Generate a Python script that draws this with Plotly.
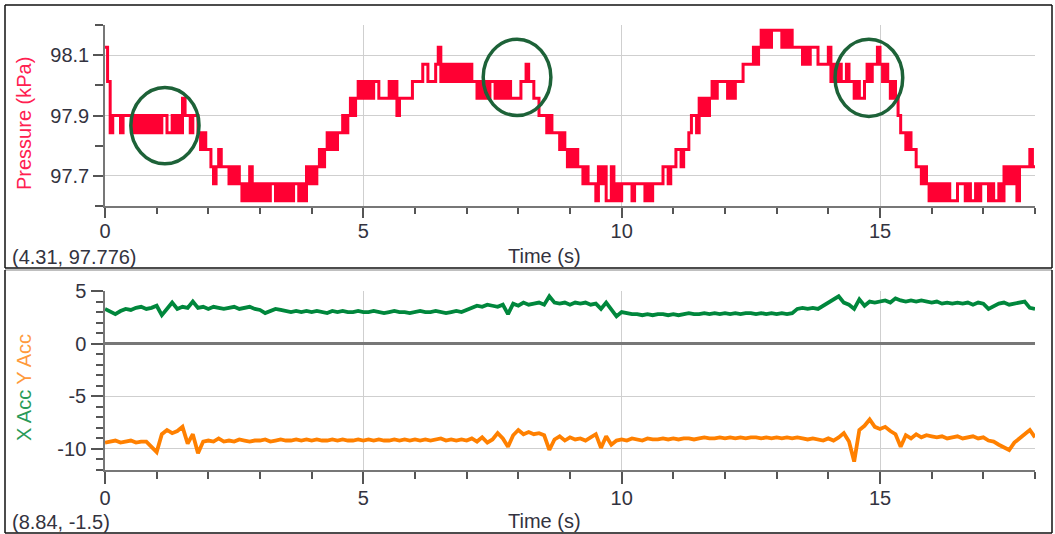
import plotly.graph_objects as go

W, H = 1055, 534

# ---------------- data ----------------
# Pressure sensor quantization levels (kPa)
pressure_levels = [97.617, 97.674, 97.730, 97.787, 97.843, 97.900,
                   97.957, 98.013, 98.070, 98.126, 98.183]
# one level index (hex digit) per 0.05 s sample, one string per second
pressure_codes = (
    "97455545555454545454"  # 0 s
    "54554454546554554343"  # 1 s
    "32123222121210102010"  # 2 s
    "10101101010101101021"  # 3 s
    "21232343434454565676"  # 4 s
    "76767766667675666667"  # 5 s
    "77788777897878787878"  # 6 s
    "78776767677676767666"  # 7 s
    "67787766555454443432"  # 8 s
    "32322121110212002010"  # 9 s
    "11110111101011112212"  # 10 s
    "23323345546565676777"  # 11 s
    "76767778888989A9A9AA"  # 12 s
    "AA9A9A99998989998888"  # 13 s
    "97878778776766787889"  # 14 s
    "87876765443433221210"  # 15 s
    "10101010001110100101"  # 16 s
    "11010010212120222232"  # 17 s
    "2"                     # 18 s
)
pressure_dt = 0.05

# X / Y acceleration, one value per 0.1 s
x_acc = [
    3.3, 3.0, 2.8, 3.1, 3.3, 3.2, 3.4, 3.5, 3.3, 3.4,
    3.6, 2.7, 3.3, 3.9, 3.3, 3.5, 3.4, 4.0, 3.4, 3.5,
    3.3, 3.5, 3.4, 3.3, 3.4, 3.5, 3.3, 3.4, 3.5, 3.3,
    3.2, 2.9, 3.1, 3.3, 3.2, 3.1, 3.0, 3.1, 3.0, 3.1,
    3.0, 3.1, 3.0, 2.9, 3.1, 3.0, 3.1, 3.0, 3.0, 3.1,
    3.0, 3.0, 3.1, 3.0, 2.9, 3.0, 3.1, 3.0, 3.0, 2.9,
    3.0, 3.1, 3.0, 3.0, 3.1, 3.0, 2.9, 3.0, 3.1, 3.0,
    3.2, 3.4, 3.6, 3.5, 3.7, 3.6, 3.5, 3.7, 2.8, 3.8,
    3.6, 3.9, 3.7, 3.8, 3.9, 3.7, 4.5, 3.9, 3.8, 3.9,
    3.7, 3.9, 3.8, 3.9, 3.7, 3.8, 3.3, 3.9, 3.2, 2.6,
    3.0, 2.9, 2.8, 2.8, 2.7, 2.8, 2.7, 2.8, 2.8, 2.7,
    2.8, 2.7, 2.8, 2.9, 2.8, 2.8, 2.9, 2.8, 2.9, 2.8,
    2.9, 2.8, 2.9, 2.8, 2.9, 2.9, 2.8, 2.9, 2.8, 2.9,
    2.8, 2.9, 2.8, 2.9, 3.3, 3.4, 3.3, 3.4, 3.3, 3.6,
    4.0, 4.2, 4.5, 3.9, 3.7, 3.3, 4.2, 3.6, 4.0, 3.9,
    4.0, 4.1, 3.9, 4.3, 4.1, 4.0, 4.1, 4.0, 4.1, 4.0,
    3.9, 4.0, 3.8, 3.9, 3.8, 3.9, 3.8, 3.9, 3.7, 3.9,
    3.8, 3.3, 3.6, 3.8, 3.9, 3.7, 3.8, 3.9, 4.0, 3.4,
    3.3,
]
y_acc = [
    -9.4, -9.3, -9.2, -9.4, -9.3, -9.2, -9.4, -9.3, -9.3, -9.8,
    -10.3, -8.6, -8.2, -8.5, -8.3, -7.9, -9.5, -8.6, -10.4, -9.3,
    -9.2, -9.3, -9.0, -9.3, -9.2, -9.3, -9.1, -9.2, -9.3, -9.2,
    -9.2, -9.1, -9.3, -9.2, -9.1, -9.2, -9.2, -9.1, -9.2, -9.1,
    -9.2, -9.1, -9.2, -9.2, -9.1, -9.2, -9.1, -9.2, -9.2, -9.1,
    -9.2, -9.1, -9.2, -9.1, -9.2, -9.2, -9.1, -9.2, -9.1, -9.2,
    -9.1, -9.2, -9.1, -9.2, -9.1, -9.0, -9.2, -9.1, -9.2, -9.1,
    -9.2, -9.0, -9.3, -8.9, -9.4, -9.1, -8.5, -9.0, -9.8, -8.7,
    -8.2, -8.6, -8.4, -8.6, -8.5, -8.7, -10.1, -9.1, -8.8, -9.2,
    -8.9, -9.1, -9.0, -9.2, -8.9, -8.6, -9.9, -8.8, -9.6, -9.2,
    -9.1, -9.2, -9.0, -9.1, -9.2, -9.0, -9.1, -9.1, -9.0, -9.1,
    -9.0, -9.1, -9.0, -9.0, -9.1, -9.0, -8.9, -9.0, -9.0, -8.9,
    -9.0, -8.9, -9.0, -8.9, -9.0, -8.9, -8.9, -9.0, -8.9, -9.0,
    -8.9, -9.0, -8.9, -9.0, -8.9, -9.0, -9.1, -9.0, -9.1, -9.2,
    -9.0, -9.2, -8.9, -8.5, -9.3, -11.2, -8.2, -7.8, -7.2, -7.9,
    -8.1, -7.9, -8.3, -8.6, -9.8, -8.7, -9.0, -8.6, -8.9, -8.7,
    -8.8, -8.9, -8.8, -9.0, -8.9, -8.8, -9.0, -8.9, -8.8, -9.0,
    -8.9, -9.2, -9.3, -9.6, -9.9, -10.1, -9.4, -9.0, -8.7, -8.2,
    -8.9,
]
acc_dt = 0.1

# tick labels
x_ticks = [0, 5, 10, 15]
x_ticktext = ["0", "5", "10", "15"]
p_ticks = [97.7, 97.9, 98.1]
p_ticktext = ["97.7", "97.9", "98.1"]
a_ticks = [-10, -5, 0, 5]
a_ticktext = ["-10", "-5", "0", "5"]

# highlighted regions (time range s, pressure range kPa)
circles = [
    (0.50, 1.82, 97.74, 97.993),
    (7.32, 8.63, 97.90, 98.153),
    (14.13, 15.44, 97.897, 98.153),
]

cursor_top = "(4.31, 97.776)"
cursor_bottom = "(8.84, -1.5)"

# ---------------- derived series ----------------
pressure_kpa = [pressure_levels[int(c, 16)] for c in pressure_codes]
pressure_t = [round(i * pressure_dt, 3) for i in range(len(pressure_kpa))]
acc_t = [round(i * acc_dt, 3) for i in range(len(x_acc))]

RED = "#ff0033"
GREEN = "#00873c"
ORANGE = "#ff8000"
FONT = "Liberation Sans, Arial, sans-serif"
TXT = "#333340"

fig = go.Figure()
fig.add_trace(go.Scatter(x=pressure_t, y=pressure_kpa, mode="lines",
                         line=dict(color=RED, width=3, shape="hv"),
                         xaxis="x", yaxis="y", showlegend=False,
                         hoverinfo="skip"))
fig.add_trace(go.Scatter(x=acc_t, y=x_acc, mode="lines",
                         line=dict(color=GREEN, width=3.8),
                         xaxis="x2", yaxis="y2", showlegend=False,
                         hoverinfo="skip"))
fig.add_trace(go.Scatter(x=acc_t, y=y_acc, mode="lines",
                         line=dict(color=ORANGE, width=3.8),
                         xaxis="x2", yaxis="y2", showlegend=False,
                         hoverinfo="skip"))


def px(x):
    return x / W


def py(y):
    return 1 - y / H


def xaxis_common(ticklen, minorlen, anchor, standoff):
    return dict(
        domain=[px(105), px(1035)], anchor=anchor, range=[0, 18],
        automargin=False,
        tickmode="array", tickvals=x_ticks, ticktext=x_ticktext,
        ticks="outside", ticklen=ticklen, tickwidth=1.5, tickcolor="#555",
        showline=True, linecolor="#777", linewidth=1.5,
        showgrid=True, gridcolor="#cfcfcf", gridwidth=1, zeroline=False,
        minor=dict(tickmode="linear", tick0=0, dtick=1, ticks="outside",
                   ticklen=minorlen, tickwidth=1.5, tickcolor="#555",
                   showgrid=False),
        tickfont=dict(family=FONT, size=20, color=TXT),
        ticklabelstandoff=standoff, fixedrange=True,
    )


fig.update_layout(
    template="none",
    width=W, height=H,
    margin=dict(l=0, r=0, t=0, b=0, pad=0),
    paper_bgcolor="white", plot_bgcolor="white",
    font=dict(family=FONT, size=19, color=TXT),
    showlegend=False,
    xaxis=xaxis_common(10, 6, "y", -4),
    xaxis2=xaxis_common(12, 7, "y2", -3),
    yaxis=dict(
        domain=[py(206), py(25)], anchor="x", range=[97.6, 98.2],
        automargin=False,
        tickmode="array", tickvals=p_ticks, ticktext=p_ticktext,
        ticks="outside", ticklen=10, tickwidth=1.5, tickcolor="#555",
        showline=True, linecolor="#777", linewidth=1.5,
        showgrid=True, gridcolor="#cfcfcf", gridwidth=1, zeroline=False,
        minor=dict(tickmode="linear", tick0=97.6, dtick=0.1, ticks="outside",
                   ticklen=8, tickwidth=1.5, tickcolor="#555", showgrid=False),
        tickfont=dict(family=FONT, size=20, color=TXT),
        ticklabelstandoff=0, fixedrange=True,
    ),
    yaxis2=dict(
        domain=[py(470), py(291)], anchor="x2", range=[-12, 5],
        automargin=False,
        tickmode="array", tickvals=a_ticks, ticktext=a_ticktext,
        ticks="outside", ticklen=12, tickwidth=1.5, tickcolor="#555",
        showline=True, linecolor="#777", linewidth=1.5,
        showgrid=True, gridcolor="#cfcfcf", gridwidth=1,
        zeroline=True, zerolinecolor="#777", zerolinewidth=2.5,
        minor=dict(tickmode="linear", tick0=0, dtick=1, ticks="outside",
                   ticklen=7, tickwidth=1.5, tickcolor="#555", showgrid=False),
        tickfont=dict(family=FONT, size=20, color=TXT),
        ticklabelstandoff=1, fixedrange=True,
    ),
)

shapes = []
# panel frames
for (x0, y0, x1, y1, c) in [
    (5, 5, 1052, 5, "#111"), (5, 5, 5, 268, "#111"), (1052, 5, 1052, 268, "#111"),
    (5, 268, 1052, 268, "#111"),
    (5, 270, 1052, 270, "#aaa"), (5, 270, 5, 533, "#111"),
    (1052, 270, 1052, 533, "#111"), (5, 533, 1052, 533, "#111"),
]:
    shapes.append(dict(type="line", xref="paper", yref="paper",
                       x0=px(x0), y0=py(y0), x1=px(x1), y1=py(y1),
                       line=dict(color=c, width=1.5)))
for (t0, t1, p0, p1) in circles:
    shapes.append(dict(type="circle", xref="x", yref="y",
                       x0=t0, x1=t1, y0=p0, y1=p1,
                       line=dict(color="#1d6238", width=3.5)))
fig.update_layout(shapes=shapes)

ann = []
ann.append(dict(x=px(24), y=py(124), xref="paper", yref="paper",
                text="Pressure (kPa)", textangle=-90, showarrow=False,
                xanchor="center", yanchor="middle",
                font=dict(family=FONT, size=20, color="#ff2050")))
ann.append(dict(x=px(24), y=py(388), xref="paper", yref="paper",
                text='<span style="color:#2a9a58">X Acc</span> '
                     '<span style="color:#ff9a3c">Y Acc</span>',
                textangle=-90, showarrow=False,
                xanchor="center", yanchor="middle",
                font=dict(family=FONT, size=20)))
for yc in (256, 521):
    ann.append(dict(x=px(544), y=py(yc), xref="paper", yref="paper",
                    text="Time (s)", showarrow=False,
                    xanchor="center", yanchor="middle",
                    font=dict(family=FONT, size=20, color=TXT)))
ann.append(dict(x=px(10), y=py(257), xref="paper", yref="paper",
                text=cursor_top, showarrow=False, xanchor="left", yanchor="middle",
                font=dict(family=FONT, size=20, color=TXT)))
ann.append(dict(x=px(10), y=py(522), xref="paper", yref="paper",
                text=cursor_bottom, showarrow=False, xanchor="left", yanchor="middle",
                font=dict(family=FONT, size=20, color=TXT)))
fig.update_layout(annotations=ann)

fig.write_html("out.html")
